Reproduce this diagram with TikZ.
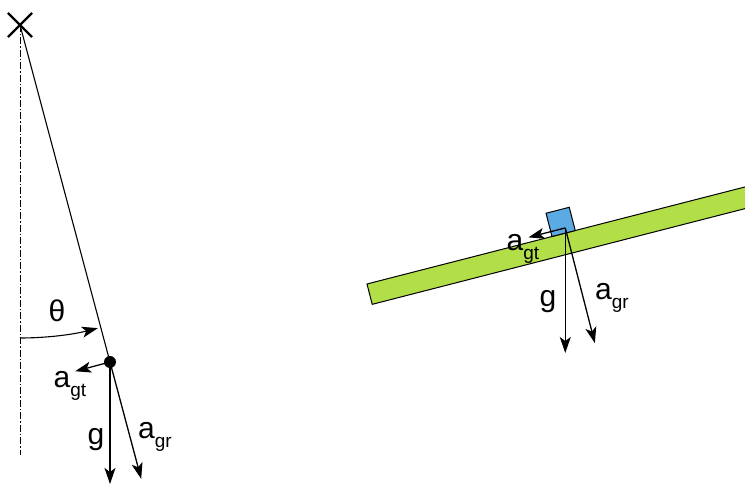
\documentclass[tikz,border=0pt]{standalone}
\usepackage{fontspec}
\setmainfont{Liberation Sans}
\usetikzlibrary{arrows.meta,shapes.misc,calc}
\definecolor{plankgreen}{RGB}{178,222,72}
\definecolor{blockblue}{RGB}{92,170,228}
\newcommand{\vlab}[2]{#1\raisebox{-0.3em}{\fontsize{19}{19}\selectfont #2}}
\begin{document}
\begin{tikzpicture}[x=1pt,y=1pt,
    vec/.style={line width=1.3pt,-{Stealth[length=16pt,width=11pt,inset=4pt]}},
    lbl/.style={inner sep=0pt,font=\fontsize{30}{30}\selectfont}]
  \useasboundingbox (0,0) rectangle (745,487);
  \clip (0,0) rectangle (745,487);
  % pendulum
  \node[cross out,draw,line width=2.2pt,minimum size=22pt,inner sep=0pt] (pivot) at (20,462) {};
  \coordinate (vbot) at (20,32);
  \draw[line width=1pt,dash pattern=on 7pt off 2pt on 1.5pt off 2pt] (pivot.center) -- (vbot);
  \node[circle,fill,inner sep=0pt,minimum size=12pt] (bob) at (110,125) {};
  \draw[line width=1.1pt] (pivot.center) -- (bob.center);
  \coordinate (gtip) at (110,3);
  \coordinate (grtip) at ($(bob.center)+(-75.05:121)$);
  \coordinate (gttip) at ($(bob.center)+(-165.05:36)$);
  \draw[vec] (bob.center) -- (gtip);
  \draw[vec] (bob.center) -- (grtip);
  \draw[vec] (bob.center) -- (gttip);
  \draw[line width=1.1pt,-{Stealth[length=16pt,width=11pt,inset=4pt]}] ($(pivot.center)+(-90:313)$) arc[start angle=-90,end angle=-75.6,radius=313];
  \node[lbl] (theta) at (57,176) {θ};
  \node[lbl] (gt1) at (70,101) {\vlab{a}{gt}};
  \node[lbl] (g1) at (96,47) {g};
  \node[lbl] (gr1) at (155,50) {\vlab{a}{gr}};
  % inclined plank
  \begin{scope}[shift={(367,203)},rotate=14.4]
    \draw[fill=plankgreen,line width=1pt] (0,0) rectangle (440,-21);
    \draw[fill=blockblue,line width=1pt] (191,0) rectangle (215,24);
    \coordinate (orig) at (206,5);
    \coordinate (gt2tip) at (168,5);
    \coordinate (gr2tip) at (206,-114);
  \end{scope}
  \coordinate (g2tip) at (orig |- 0,134);
  \draw[vec] (orig) -- (gt2tip);
  \draw[vec] (orig) -- (g2tip);
  \draw[vec] (orig) -- (gr2tip);
  \node[lbl] (gt3) at (523,238) {\vlab{a}{gt}};
  \node[lbl] (g3) at (548,185) {g};
  \node[lbl] (gr3) at (612,189) {\vlab{a}{gr}};
\end{tikzpicture}
\end{document}
